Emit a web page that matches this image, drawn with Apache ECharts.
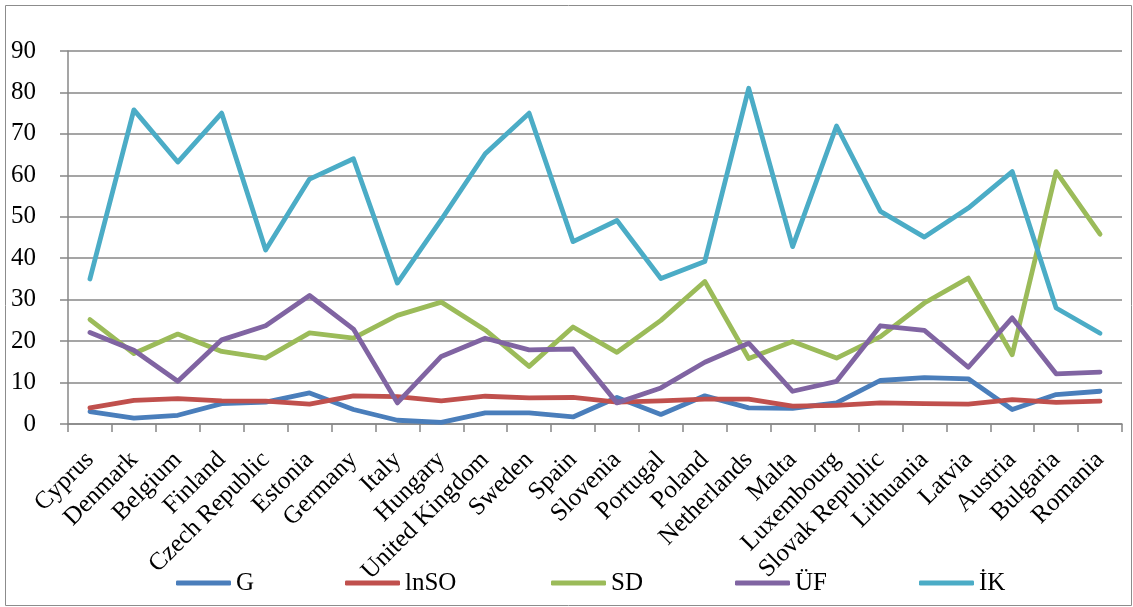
<!DOCTYPE html>
<html><head><meta charset="utf-8">
<script src="https://cdn.jsdelivr.net/npm/echarts@6/dist/echarts.min.js"></script>
<style>html,body{margin:0;padding:0;background:#fff}#c{width:1133px;height:607px}</style>
</head><body><div id="c"></div>
<script>
const categories = ["Cyprus","Denmark","Belgium","Finland","Czech Republic","Estonia","Germany","Italy","Hungary","United Kingdom","Sweden","Spain","Slovenia","Portugal","Poland","Netherlands","Malta","Luxembourg","Slovak Republic","Lithuania","Latvia","Austria","Bulgaria","Romania"];
const G    = [3.0,1.4,2.1,4.9,5.3,7.5,3.5,0.9,0.4,2.7,2.7,1.7,6.4,2.3,6.8,3.9,3.8,5.1,10.5,11.2,10.9,3.5,7.1,7.9];
const lnSO = [3.9,5.7,6.1,5.6,5.5,4.8,6.8,6.6,5.6,6.7,6.3,6.4,5.3,5.6,6.0,6.0,4.3,4.5,5.1,4.9,4.8,5.9,5.2,5.5];
const SD   = [25.2,17.0,21.7,17.5,15.9,22.0,20.7,26.2,29.4,22.7,13.9,23.4,17.3,25.0,34.4,15.8,19.9,15.9,21.1,29.2,35.2,16.7,60.9,45.8];
const UF   = [22.1,17.8,10.3,20.3,23.7,31.0,22.9,5.1,16.3,20.7,17.9,18.1,5.1,8.7,14.9,19.5,7.9,10.3,23.7,22.6,13.7,25.6,12.1,12.5];
const IK   = [35.0,75.8,63.2,75.0,42.0,59.1,64.0,34.0,49.3,65.2,75.0,44.0,49.1,35.1,39.2,81.0,42.8,71.9,51.3,45.1,52.1,60.9,28.0,21.9];
const seriesNames = ["G","lnSO","SD","ÜF","İK"];
const seriesData = [G, lnSO, SD, UF, IK];
const colors = ["#4a7ebb","#c0504d","#9bbb59","#8064a2","#4bacc6"];
const legendLeft = [176, 345, 551, 735, 919];
const font = "'Liberation Serif','Times New Roman',serif";

const chart = echarts.init(document.getElementById('c'));
chart.setOption({
  animation: false,
  graphic: [{type:'rect', shape:{x:5.5,y:5.5,width:1126,height:600}, style:{fill:'none', stroke:'#8c8c8c', lineWidth:1}, silent:true}],
  grid: {left: 68, right: 11, top: 51, bottom: 183, containLabel: false},
  legend: seriesNames.map((n,i)=>({
    data:[n], left: legendLeft[i], top: 568, itemWidth: 55, itemHeight: 5, padding: 0,
    textStyle:{fontFamily:font, fontSize:25, color:'#000', lineHeight:30},
    icon: 'roundRect', itemStyle:{color: colors[i]}
  })),
  xAxis: {
    type:'category', data: categories, boundaryGap: true,
    axisLine:{lineStyle:{color:'#878787', width:1.5}},
    axisTick:{show:true, length:8, lineStyle:{color:'#878787', width:1.5}},
    axisLabel:{rotate:45, interval:0, margin:32, fontFamily:font, fontSize:25, color:'#000'}
  },
  yAxis: {
    type:'value', min:0, max:90, interval:10,
    axisLine:{show:true, lineStyle:{color:'#878787', width:1.5}},
    axisTick:{show:true, length:8, lineStyle:{color:'#878787', width:1.5}},
    splitLine:{lineStyle:{color:'#878787', width:1.5}},
    axisLabel:{margin:32, fontFamily:font, fontSize:25, color:'#000'}
  },
  series: seriesNames.map((n,i)=>({
    name:n, type:'line', data: seriesData[i], showSymbol:false, symbol:'none',
    lineStyle:{color:colors[i], width:4.8, cap:'round', join:'round'},
    itemStyle:{color:colors[i]}, z: 2+i
  }))
});
</script></body></html>
